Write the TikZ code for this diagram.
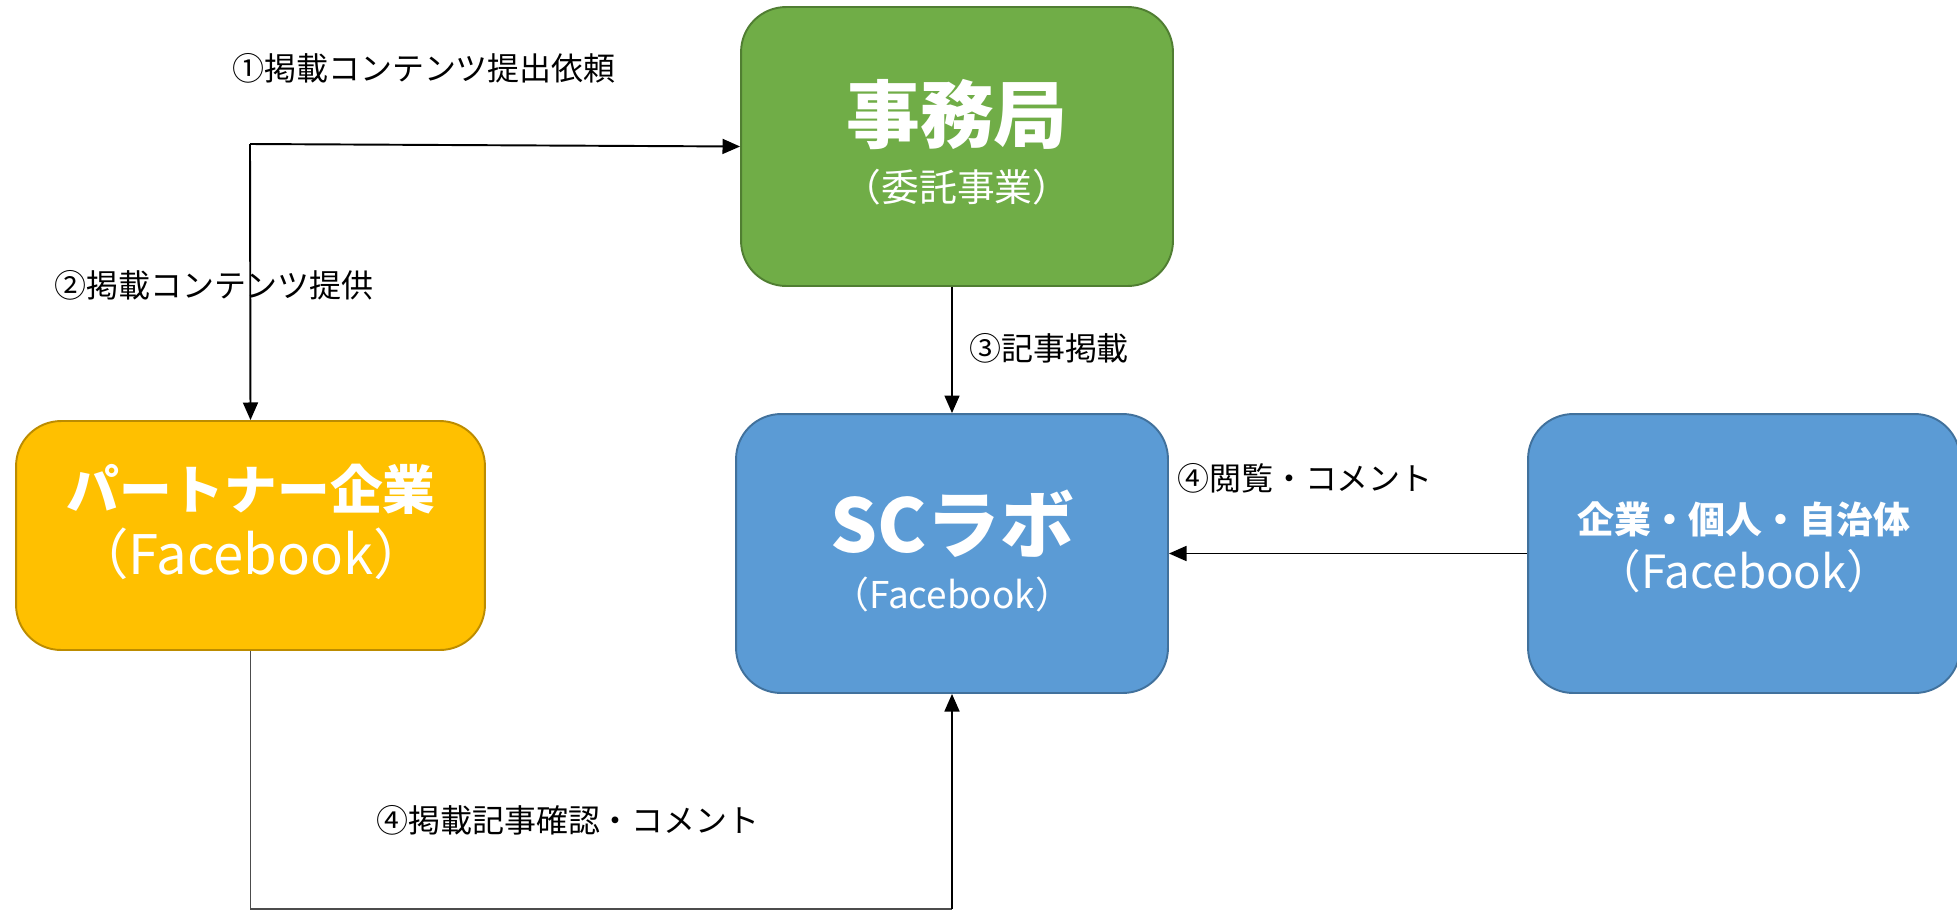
\documentclass[tikz,border=0pt]{standalone}
\usepackage{fontspec}
\setmainfont{Noto Sans CJK JP}
\usetikzlibrary{arrows.meta}
\tikzset{>={Triangle[length=10pt,width=8.5pt]}}

\definecolor{jimugreen}{RGB}{112,173,71}
\definecolor{jimuedge}{RGB}{80,126,50}
\definecolor{labblue}{RGB}{91,155,213}
\definecolor{labedge}{RGB}{65,113,156}
\definecolor{partnergold}{RGB}{255,192,0}
\definecolor{partneredge}{RGB}{188,140,0}

\begin{document}
\begin{tikzpicture}[x=0.02cm,y=-0.02cm,
  box/.style={rounded corners=0.9cm, line width=1.1pt, minimum width=8.64cm,
    minimum height=5.58cm, inner sep=0pt},
  title/.style={text=white, inner sep=0pt, font=\bfseries\fontsize{42}{46}\selectfont},
  sub/.style={text=white, inner sep=0pt, font=\fontsize{21}{25}\selectfont},
  flowlbl/.style={inner sep=0pt, font=\fontsize{18.2}{22}\selectfont},
  conn/.style={->, line width=1.1pt}]

\useasboundingbox (0,0) rectangle (1957,910);

% the four boxes
\node[box, draw=jimuedge, fill=jimugreen] (jimu) at (957,146.5) {};
\node[box, draw=labedge, fill=labblue] (sclab) at (952,553.5) {};
\node[box, draw=partneredge, fill=partnergold, minimum width=9.38cm,
  minimum height=4.58cm] (partner) at (250.5,535.5) {};
\node[box, draw=labedge, fill=labblue] (kigyo) at (1744,553.5) {};

% texts inside the boxes
\node[title] (jimutitle) at (957,115) {事務局};
\node[sub, font=\fontsize{21.5}{25}\selectfont] (jimusub) at (957,187) {（委託事業）};
\node[title] (sclabtitle) at (952,524) {SCラボ};
\node[sub] (sclabsub) at (952,594) {（Facebook）};
\node[title, font=\bfseries\fontsize{30}{34}\selectfont] (partnertitle) at (251,489) {パートナー企業};
\node[sub, font=\fontsize{31}{35}\selectfont] (partnersub) at (251,554) {（Facebook）};
\node[title, font=\bfseries\fontsize{21}{25}\selectfont] (kigyotitle) at (1744,519) {企業・個人・自治体};
\node[sub, font=\fontsize{26}{30}\selectfont] (kigyosub) at (1744,571) {（Facebook）};

% connectors
\coordinate (split) at (250,144);
\coordinate (turn) at (952,909);
\draw[conn] (split) -- (jimu.west);
\draw[conn] (split) -- (partner.north);
\draw[conn] (sclab.north |- jimu.south) -- (sclab.north);
\draw[conn] (kigyo.west) -- (sclab.east);
\draw[line width=0.6pt, black!70] (partner.south) |- (turn);
\draw[conn] (turn) -- (sclab.south);

% step labels
\node[flowlbl] (step1) at (424,68) {①掲載コンテンツ提出依頼};
\node[flowlbl] (step2) at (214,285) {②掲載コンテンツ提供};
\node[flowlbl] (step3) at (1049,348) {③記事掲載};
\node[flowlbl] (step4a) at (1305,478) {④閲覧・コメント};
\node[flowlbl] (step4b) at (568,820) {④掲載記事確認・コメント};
\end{tikzpicture}
\end{document}
